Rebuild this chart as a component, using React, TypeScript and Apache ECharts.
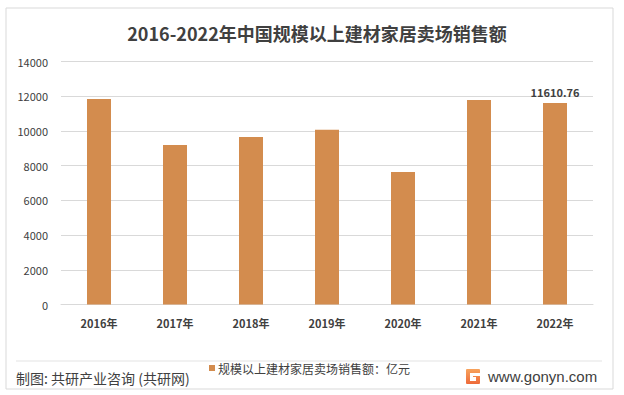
import React, { useEffect, useRef } from "react";
import * as echarts from "echarts";

const categories = ["2016年", "2017年", "2018年", "2019年", "2020年", "2021年", "2022年"];
const salesValues = [11840, 9190, 9650, 10070, 7640, 11790, 11610.76];
const yTicks = [0, 2000, 4000, 6000, 8000, 10000, 12000, 14000];
const seriesName = "规模以上建材家居卖场销售额：亿元";
const titleText = "2016-2022年中国规模以上建材家居卖场销售额";
const sourceText = "制图: 共研产业咨询 (共研网)";
const siteText = "www.gonyn.com";

const FONT = "'Noto Sans CJK SC', 'Noto Sans', sans-serif";

export default function App() {
  const ref = useRef<HTMLDivElement>(null);
  useEffect(() => {
    if (!ref.current) return;
    const chart = echarts.init(ref.current, null, { renderer: "svg" });
    const lastIdx = salesValues.length - 1;
    chart.setOption({
      animation: false,
      backgroundColor: "#ffffff",
      textStyle: { fontFamily: FONT },
      grid: { left: 61, right: 31, top: 61.6, bottom: 90.5 },
      legend: {
        data: [seriesName],
        left: 209,
        top: 362,
        padding: 0,
        icon: "rect",
        itemWidth: 6,
        itemHeight: 6,
        itemGap: 4,
        textStyle: { fontSize: 12, color: "#404040", fontFamily: FONT, padding: [0, 0, 0, -2] },
      },
      xAxis: {
        type: "category",
        data: categories,
        axisLine: { lineStyle: { color: "#d9d9d9" } },
        axisTick: { show: false },
        axisLabel: { color: "#404040", fontSize: 11, fontWeight: "bold", margin: 13, fontFamily: FONT },
      },
      yAxis: {
        type: "value",
        min: yTicks[0],
        max: yTicks[yTicks.length - 1],
        interval: yTicks[1] - yTicks[0],
        axisLine: { show: false },
        axisTick: { show: false },
        splitLine: { lineStyle: { color: "#d9d9d9" } },
        axisLabel: {
          color: "#404040",
          fontSize: 11,
          margin: 13,
          fontFamily: FONT,
          formatter: (v: number) => String(v),
        },
      },
      series: [
        {
          name: seriesName,
          type: "bar",
          barWidth: 24,
          itemStyle: { color: "#d38c4e" },
          data: salesValues.map((v, i) =>
            i === lastIdx
              ? {
                  value: v,
                  label: {
                    show: true,
                    position: "top",
                    distance: 6,
                    color: "#404040",
                    fontSize: 11,
                    fontWeight: "bold",
                    fontFamily: FONT,
                    formatter: (p: any) => String(p.value),
                  },
                }
              : v
          ),
        },
      ],
      graphic: [
        {
          type: "rect",
          shape: { x: 6, y: 8, width: 607, height: 381 },
          style: { fill: "none", stroke: "#d9d9d9", lineWidth: 1 },
          silent: true,
        },
        {
          type: "text",
          x: 317,
          y: 33,
          style: {
            text: titleText,
            fill: "#404040",
            font: `bold 18px ${FONT}`,
            align: "center",
            verticalAlign: "middle",
          },
        },
        {
          type: "line",
          shape: { x1: 16, y1: 361, x2: 602, y2: 361 },
          style: { stroke: "#e3e3e3", lineWidth: 1 },
        },
        {
          type: "text",
          x: 16,
          y: 378,
          style: {
            text: sourceText,
            fill: "#404040",
            font: `14px ${FONT}`,
            align: "left",
            verticalAlign: "middle",
          },
        },
        {
          type: "group",
          x: 466,
          y: 369,
          children: [
            {
              type: "rect",
              shape: { x: 0, y: 0, width: 14, height: 15, r: 1 },
              style: {
                fill: new echarts.graphic.LinearGradient(0, 0, 0, 1, [
                  { offset: 0, color: "#f7a35c" },
                  { offset: 1, color: "#ee6a3a" },
                ]),
              },
            },
            { type: "rect", shape: { x: 4, y: 4, width: 10, height: 3 }, style: { fill: "#ffffff" } },
            { type: "rect", shape: { x: 4, y: 7, width: 3, height: 5 }, style: { fill: "#ffffff" } },
            { type: "rect", shape: { x: 7, y: 8, width: 3, height: 4 }, style: { fill: "#ffffff" } },
          ],
        },
        {
          type: "text",
          x: 488,
          y: 376,
          style: {
            text: siteText,
            fill: "#404040",
            font: `15px 'Liberation Sans', Arial, sans-serif`,
            align: "left",
            verticalAlign: "middle",
          },
        },
      ],
    });
    return () => chart.dispose();
  }, []);
  return <div ref={ref} style={{ width: 624, height: 395, position: "absolute", left: 0, top: 0 }} />;
}
